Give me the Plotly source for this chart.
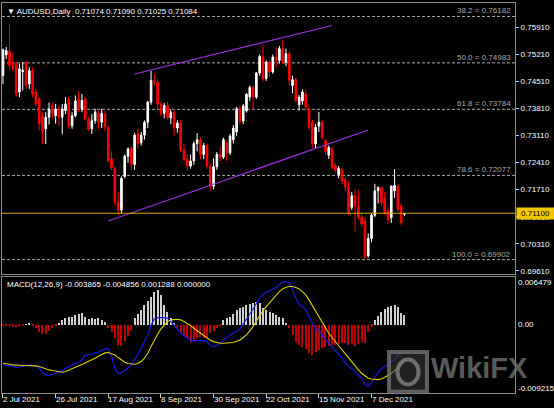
import pandas as pd
import plotly.graph_objects as go
from plotly.subplots import make_subplots

# trading days shown on the chart (2 Jul 2021 .. 21 Dec 2021)
dates = pd.bdate_range("2021-07-02", "2021-12-21").strftime("%Y-%m-%d").tolist()

opens = [0.7466, 0.7519, 0.7528, 0.7500, 0.7496, 0.7423, 0.7476, 0.7500, 0.7444, 0.7478,
         0.7423, 0.7405, 0.7360, 0.7328, 0.7358, 0.7388, 0.7362, 0.7379, 0.7358, 0.7375,
         0.7405, 0.7336, 0.7362, 0.7405, 0.7379, 0.7405, 0.7353, 0.7328, 0.7349, 0.7368,
         0.7345, 0.7366, 0.7332, 0.7250, 0.7225, 0.7140, 0.7118, 0.7205, 0.7257, 0.7278,
         0.7236, 0.7315, 0.7292, 0.7312, 0.7345, 0.7397, 0.7453, 0.7448, 0.7392, 0.7368,
         0.7388, 0.7356, 0.7370, 0.7330, 0.7343, 0.7274, 0.7249, 0.7232, 0.7245, 0.7290,
         0.7300, 0.7262, 0.7285, 0.7231, 0.7180, 0.7230, 0.7262, 0.7255, 0.7292, 0.7266,
         0.7300, 0.7320, 0.7380, 0.7348, 0.7374, 0.7410, 0.7435, 0.7410, 0.7472, 0.7515,
         0.7458, 0.7500, 0.7475, 0.7513, 0.7505, 0.7535, 0.7500, 0.7522, 0.7440, 0.7455,
         0.7390, 0.7400, 0.7418, 0.7380, 0.7345, 0.7289, 0.7335, 0.7345, 0.7298, 0.7260,
         0.7276, 0.7233, 0.7210, 0.7222, 0.7197, 0.7178, 0.7125, 0.7155, 0.7128, 0.7100,
         0.7090, 0.7000, 0.7045, 0.7105, 0.7168, 0.7176, 0.7150, 0.7116, 0.7099, 0.7168,
         0.7180, 0.7129, 0.71074]
highs = [0.7535, 0.7539, 0.7599, 0.7525, 0.7500, 0.7496, 0.7500, 0.7504, 0.7487, 0.7487,
         0.7431, 0.7410, 0.7370, 0.7371, 0.7396, 0.7396, 0.7392, 0.7388, 0.7392, 0.7410,
         0.7410, 0.7371, 0.7414, 0.7425, 0.7418, 0.7410, 0.7358, 0.7366, 0.7380, 0.7375,
         0.7380, 0.7375, 0.7336, 0.7270, 0.7230, 0.7165, 0.7205, 0.7262, 0.7280, 0.7283,
         0.7318, 0.7330, 0.7320, 0.7350, 0.7400, 0.7478, 0.7470, 0.7455, 0.7398, 0.7395,
         0.7398, 0.7378, 0.7378, 0.7350, 0.7350, 0.7290, 0.7262, 0.7262, 0.7296, 0.7317,
         0.7305, 0.7292, 0.7290, 0.7238, 0.7252, 0.7268, 0.7282, 0.7305, 0.7298, 0.7315,
         0.7338, 0.7385, 0.7388, 0.7392, 0.7420, 0.7440, 0.7440, 0.7475, 0.7520, 0.7546,
         0.7505, 0.7505, 0.7520, 0.7540, 0.7542, 0.7556, 0.7535, 0.7528, 0.7465, 0.7460,
         0.7415, 0.7430, 0.7430, 0.7390, 0.7352, 0.7340, 0.7372, 0.7350, 0.7300, 0.7285,
         0.7282, 0.7240, 0.7232, 0.7228, 0.7203, 0.7192, 0.7165, 0.7172, 0.7170, 0.7110,
         0.7100, 0.7058, 0.7110, 0.7186, 0.7180, 0.7180, 0.7165, 0.7125, 0.7182, 0.7224,
         0.7185, 0.7135, 0.71090]
lows = [0.7444, 0.7509, 0.7480, 0.7478, 0.7410, 0.7410, 0.7427, 0.7431, 0.7431, 0.7410,
        0.7388, 0.7324, 0.7290, 0.7289, 0.7339, 0.7354, 0.7341, 0.7336, 0.7314, 0.7366,
        0.7328, 0.7328, 0.7358, 0.7371, 0.7371, 0.7349, 0.7323, 0.7315, 0.7341, 0.7328,
        0.7330, 0.7322, 0.7242, 0.7222, 0.7130, 0.7105, 0.7110, 0.7200, 0.7240, 0.7222,
        0.7222, 0.7280, 0.7285, 0.7300, 0.7330, 0.7390, 0.7440, 0.7380, 0.7360, 0.7355,
        0.7352, 0.7340, 0.7310, 0.7318, 0.7268, 0.7245, 0.7222, 0.7225, 0.7235, 0.7270,
        0.7250, 0.7250, 0.7225, 0.7170, 0.7172, 0.7222, 0.7245, 0.7250, 0.7245, 0.7260,
        0.7290, 0.7310, 0.7340, 0.7340, 0.7370, 0.7400, 0.7378, 0.7405, 0.7465, 0.7450,
        0.7452, 0.7462, 0.7470, 0.7485, 0.7497, 0.7495, 0.7490, 0.7440, 0.7420, 0.7395,
        0.7375, 0.7390, 0.7375, 0.7325, 0.7278, 0.7278, 0.7320, 0.7300, 0.7262, 0.7250,
        0.7224, 0.7215, 0.7200, 0.7185, 0.7165, 0.7105, 0.7118, 0.7063, 0.7095, 0.7075,
        0.6993, 0.6995, 0.7035, 0.7100, 0.7135, 0.7130, 0.7105, 0.7083, 0.7085, 0.7150,
        0.7115, 0.7080, 0.71025]
closes = [0.7532, 0.7530, 0.7491, 0.7483, 0.7418, 0.7483, 0.7479, 0.7440, 0.7478, 0.7418,
          0.7392, 0.7341, 0.7322, 0.7358, 0.7379, 0.7367, 0.7379, 0.7358, 0.7379, 0.7392,
          0.7336, 0.7362, 0.7400, 0.7379, 0.7401, 0.7353, 0.7327, 0.7349, 0.7371, 0.7345,
          0.7368, 0.7333, 0.7246, 0.7228, 0.7140, 0.7118, 0.7200, 0.7257, 0.7276, 0.7236,
          0.7312, 0.7290, 0.7312, 0.7345, 0.7397, 0.7453, 0.7448, 0.7392, 0.7368, 0.7388,
          0.7356, 0.7370, 0.7330, 0.7343, 0.7274, 0.7249, 0.7232, 0.7245, 0.7290, 0.7300,
          0.7262, 0.7285, 0.7232, 0.7180, 0.7230, 0.7262, 0.7255, 0.7300, 0.7266, 0.7309,
          0.7330, 0.7380, 0.7348, 0.7387, 0.7417, 0.7435, 0.7410, 0.7472, 0.7515, 0.7458,
          0.7500, 0.7475, 0.7513, 0.7505, 0.7535, 0.7500, 0.7522, 0.7453, 0.7455, 0.7401,
          0.7410, 0.7423, 0.7384, 0.7332, 0.7289, 0.7332, 0.7345, 0.7306, 0.7270, 0.7280,
          0.7229, 0.7222, 0.7226, 0.7194, 0.7178, 0.7112, 0.7155, 0.7128, 0.7100, 0.7082,
          0.6996, 0.7045, 0.7105, 0.7168, 0.7176, 0.7137, 0.7112, 0.7094, 0.7180, 0.7182,
          0.7120, 0.7086, 0.71084]

macd_main = [-0.00541, -0.00546, -0.00550, -0.00559, -0.00577, -0.00568, -0.00555, -0.00546, -0.00541, -0.00546,
             -0.00550, -0.00586, -0.00640, -0.00677, -0.00686, -0.00667, -0.00654, -0.00640, -0.00622, -0.00586,
             -0.00559, -0.00541, -0.00523, -0.00510, -0.00474, -0.00406, -0.00401, -0.00397, -0.00379, -0.00370,
             -0.00343, -0.00325, -0.00325, -0.00428, -0.00586, -0.00658, -0.00649, -0.00622, -0.00586, -0.00541,
             -0.00474, -0.00397, -0.00316, -0.00226, -0.00135, 0.00000, 0.00081, 0.00099, 0.00104, 0.00099,
             0.00090, 0.00045, -0.00009, -0.00054, -0.00113, -0.00144, -0.00171, -0.00207, -0.00216, -0.00207,
             -0.00207, -0.00216, -0.00226, -0.00280, -0.00298, -0.00280, -0.00248, -0.00203, -0.00171, -0.00135,
             -0.00113, -0.00081, -0.00054, 0.00009, 0.00081, 0.00144, 0.00216, 0.00293, 0.00361, 0.00406,
             0.00442, 0.00460, 0.00478, 0.00505, 0.00550, 0.00577, 0.00586, 0.00568, 0.00474, 0.00361,
             0.00280, 0.00244, 0.00207, 0.00113, 0.00023, -0.00036, -0.00081, -0.00135, -0.00203, -0.00248,
             -0.00293, -0.00338, -0.00397, -0.00451, -0.00505, -0.00564, -0.00595, -0.00631, -0.00677, -0.00722,
             -0.00803, -0.00834, -0.00789, -0.00713, -0.00640, -0.00595, -0.00564, -0.00532, -0.00505, -0.00474,
             -0.00406, -0.00388, -0.003865]
macd_signal = [-0.00519, -0.00523, -0.00532, -0.00541, -0.00546, -0.00550, -0.00550, -0.00550, -0.00550, -0.00550,
               -0.00555, -0.00564, -0.00582, -0.00595, -0.00609, -0.00618, -0.00622, -0.00631, -0.00640, -0.00631,
               -0.00613, -0.00595, -0.00577, -0.00559, -0.00532, -0.00514, -0.00492, -0.00474, -0.00451, -0.00424,
               -0.00397, -0.00379, -0.00374, -0.00388, -0.00406, -0.00442, -0.00474, -0.00505, -0.00523, -0.00532,
               -0.00532, -0.00519, -0.00496, -0.00451, -0.00383, -0.00293, -0.00203, -0.00126, -0.00054, 0.00000,
               0.00045, 0.00068, 0.00077, 0.00077, 0.00068, 0.00045, 0.00018, -0.00009, -0.00045, -0.00077,
               -0.00113, -0.00149, -0.00180, -0.00207, -0.00226, -0.00239, -0.00248, -0.00248, -0.00248, -0.00244,
               -0.00239, -0.00221, -0.00203, -0.00171, -0.00135, -0.00081, -0.00023, 0.00054, 0.00126, 0.00189,
               0.00248, 0.00298, 0.00352, 0.00406, 0.00451, 0.00487, 0.00510, 0.00519, 0.00519, 0.00505,
               0.00487, 0.00451, 0.00406, 0.00338, 0.00262, 0.00180, 0.00099, 0.00023, -0.00045, -0.00113,
               -0.00171, -0.00226, -0.00280, -0.00338, -0.00397, -0.00451, -0.00505, -0.00559, -0.00609, -0.00654,
               -0.00690, -0.00722, -0.00731, -0.00740, -0.00740, -0.00731, -0.00713, -0.00686, -0.00658, -0.00622,
               -0.00577, -0.00532, -0.004856]
macd_hist = [-0.00018, -0.00014, -0.00018, -0.00023, -0.00032, -0.00014, -0.00009, 0.00005, 0.00018, -0.00009,
             -0.00045, -0.00090, -0.00126, -0.00117, -0.00081, -0.00045, -0.00014, 0.00023, 0.00068, 0.00099,
             0.00113, 0.00113, 0.00135, 0.00144, 0.00158, 0.00108, 0.00081, 0.00090, 0.00081, 0.00090,
             0.00072, 0.00045, -0.00045, -0.00099, -0.00171, -0.00271, -0.00280, -0.00216, -0.00144, -0.00081,
             0.00090, 0.00144, 0.00203, 0.00271, 0.00325, 0.00383, 0.00451, 0.00474, 0.00406, 0.00271,
             0.00180, 0.00090, 0.00018, -0.00045, -0.00090, -0.00135, -0.00180, -0.00226, -0.00216, -0.00180,
             -0.00158, -0.00180, -0.00158, -0.00113, -0.00081, -0.00045, -0.00005, 0.00068, 0.00090, 0.00113,
             0.00144, 0.00203, 0.00226, 0.00248, 0.00271, 0.00284, 0.00298, 0.00316, 0.00293, 0.00226,
             0.00203, 0.00180, 0.00158, 0.00135, 0.00113, 0.00090, 0.00018, -0.00045, -0.00135, -0.00226,
             -0.00271, -0.00293, -0.00325, -0.00383, -0.00406, -0.00370, -0.00338, -0.00307, -0.00293, -0.00280,
             -0.00271, -0.00271, -0.00262, -0.00248, -0.00248, -0.00271, -0.00262, -0.00280, -0.00253, -0.00226,
             -0.00248, -0.00090, -0.00023, 0.00060, 0.00120, 0.00180, 0.00210, 0.00240, 0.00260, 0.00270,
             0.00240, 0.00160, 0.001288]

price_ticks = [0.75910, 0.75210, 0.74510, 0.73810, 0.73110, 0.72410, 0.71710, 0.71010, 0.70310, 0.69610]
fib_ratios = ["38.2", "50.0", "61.8", "78.6", "100.0"]
fib_prices = [0.76182, 0.74983, 0.73784, 0.72077, 0.69902]
current_price = 0.71100
date_labels = ["2021-07-02", "2021-07-26", "2021-08-17", "2021-09-08",
               "2021-09-30", "2021-10-22", "2021-11-15", "2021-12-07"]
upper_channel_dates = ["2021-08-27", "2021-11-19"]
upper_channel_prices = [0.74696, 0.75950]
lower_channel_dates = ["2021-08-17", "2021-12-06"]
lower_channel_prices = [0.70899, 0.73250]
macd_max, macd_min = 0.006479, -0.009215

xs = list(range(len(dates)))
pos = {d: i for i, d in enumerate(dates)}

FONT = "Liberation Sans, Arial, DejaVu Sans"
FRAME = "#8c8c8c"

fig = make_subplots(rows=2, cols=1)

fig.add_trace(go.Candlestick(
    x=xs, open=opens, high=highs, low=lows, close=closes,
    increasing=dict(line=dict(color="#ffffff", width=1), fillcolor="#ffffff"),
    decreasing=dict(line=dict(color="#ff0000", width=1), fillcolor="#ff0000"),
    whiskerwidth=0, hoverinfo="skip", showlegend=False
), row=1, col=1)

for d, p in [(upper_channel_dates, upper_channel_prices), (lower_channel_dates, lower_channel_prices)]:
    fig.add_trace(go.Scatter(
        x=[pos[v] for v in d], y=p, mode="lines",
        line=dict(color="#9b30d9", width=1.2), hoverinfo="skip", showlegend=False
    ), row=1, col=1)

# MACD panel
fig.add_trace(go.Bar(
    x=xs, y=macd_hist, width=0.32,
    marker=dict(color=["#cfcfcf" if v >= 0 else "#c00000" for v in macd_hist], line=dict(width=0)),
    hoverinfo="skip", showlegend=False
), row=2, col=1)
fig.add_trace(go.Scatter(x=xs, y=macd_main, mode="lines",
                         line=dict(color="#1a1aff", width=1.1), hoverinfo="skip", showlegend=False),
              row=2, col=1)
fig.add_trace(go.Scatter(x=xs, y=macd_signal, mode="lines",
                         line=dict(color="#d8d000", width=1.1), hoverinfo="skip", showlegend=False),
              row=2, col=1)

shapes = []
annotations = []

# fibonacci levels
for r, p in zip(fib_ratios, fib_prices):
    shapes.append(dict(type="line", xref="paper", yref="y", x0=0, x1=1, y0=p, y1=p,
                       line=dict(color="#a8a8a8", width=1, dash="3px,2px"), layer="below"))
    annotations.append(dict(xref="paper", yref="y", x=1, y=p, xanchor="right", yanchor="bottom",
                            xshift=-2, yshift=-1, showarrow=False, text=f"{r} = {p:.5f}",
                            font=dict(family=FONT, size=8, color="#a8a8a8")))

# current price line and label
shapes.append(dict(type="line", xref="paper", yref="y", x0=0, x1=1, y0=current_price, y1=current_price,
                   line=dict(color="#d4aa00", width=1)))
annotations.append(dict(xref="paper", yref="y", x=1, y=current_price, xanchor="left", yanchor="middle",
                        xshift=1, showarrow=False, text=f"{current_price:.5f}",
                        bgcolor="#f0c800", borderpad=1, width=35,
                        font=dict(family=FONT, size=8, color="#000000")))

# header texts
annotations.append(dict(xref="paper", yref="paper", x=0, y=1, xanchor="left", yanchor="top",
                        xshift=3, yshift=-2, showarrow=False, align="left",
                        text="▼ AUDUSD,Daily&nbsp;&nbsp;0.71074 0.71090 0.71025 0.71084",
                        font=dict(family=FONT, size=8, color="#ffffff")))
annotations.append(dict(xref="paper", yref="y2 domain", x=0, y=1, xanchor="left", yanchor="top",
                        xshift=3, yshift=-1, showarrow=False, align="left",
                        text=f"MACD(12,26,9) {macd_main[-1]:.6f} {macd_signal[-1]:.6f} {macd_hist[-1]:.6f} 0.000000",
                        font=dict(family=FONT, size=8, color="#ffffff")))

# MACD scale labels
for v, txt, shift in [(macd_max, "0.006479", -5), (0, "0.00", 0), (macd_min, "-0.009215", 5)]:
    annotations.append(dict(xref="paper", yref="y2", x=1, y=v, xanchor="left", yanchor="middle",
                            xshift=1, yshift=shift, showarrow=False, text=txt,
                            font=dict(family=FONT, size=8, color="#ffffff")))

# date labels
for d in date_labels:
    annotations.append(dict(xref="x2", yref="paper", x=pos[d], y=0, xanchor="left", yanchor="top",
                            xshift=-2, yshift=0, showarrow=False, text=pd.Timestamp(d).strftime("%-d %b %Y"),
                            font=dict(family=FONT, size=8, color="#ffffff")))

# WikiFX watermark
shapes.append(dict(type="rect", xref="paper", yref="paper", x0=0.7544, x1=0.8285, y0=0.003, y1=0.105,
                   line=dict(color="rgba(120,120,120,0.75)", width=4),
                   fillcolor="rgba(60,60,60,0.55)"))
shapes.append(dict(type="circle", xref="paper", yref="paper", x0=0.771, x1=0.812, y0=0.022, y1=0.086,
                   line=dict(color="rgba(130,130,130,0.8)", width=4)))
annotations.append(dict(xref="paper", yref="paper", x=0.832, y=0.064, xanchor="left", yanchor="middle",
                        showarrow=False, text="<b>WikiFX</b>",
                        font=dict(family="Liberation Sans, Arial", size=29, color="rgba(115,115,115,0.8)")))

x_range = [-0.3, 155.6]
fig.update_layout(
    width=554, height=408,
    margin=dict(l=2, r=39, t=3, b=15),
    paper_bgcolor="#000000", plot_bgcolor="#000000",
    showlegend=False, bargap=0,
    shapes=shapes, annotations=annotations,
    xaxis=dict(domain=[0, 1], range=x_range, anchor="y", showticklabels=False, showgrid=False,
               zeroline=False, showline=True, linecolor=FRAME, mirror=True, rangeslider=dict(visible=False)),
    xaxis2=dict(domain=[0, 1], range=x_range, anchor="y2", showticklabels=False, showgrid=False,
                zeroline=False, showline=True, linecolor=FRAME, mirror=True,
                tickvals=[pos[d] for d in date_labels], ticks="outside", ticklen=4, tickcolor="#c8c8c8"),
    yaxis=dict(domain=[0.3051, 1], range=[0.69530, 0.76530], side="right", anchor="x",
               tickvals=price_ticks, ticktext=[f"{v:.5f}" for v in price_ticks],
               ticks="outside", ticklen=3, tickcolor="#c8c8c8",
               tickfont=dict(family=FONT, size=8, color="#ffffff"),
               showgrid=False, zeroline=False, showline=True, linecolor=FRAME, mirror=True),
    yaxis2=dict(domain=[0, 0.2974], range=[macd_min, macd_max], side="right", anchor="x2",
                showticklabels=False, showgrid=False, zeroline=False,
                showline=True, linecolor=FRAME, mirror=True),
)

# the page's default body margin would shift the chart, so drop it
fig.write_html("out.html", config={"displayModeBar": False},
               post_script="document.body.style.margin='0';")
